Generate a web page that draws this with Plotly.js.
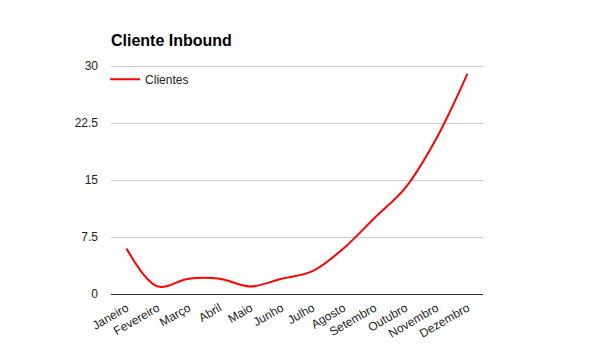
<!DOCTYPE html>
<html>
<head>
<meta charset="utf-8">
<script src="https://cdn.plot.ly/plotly-3.0.1.min.js"></script>
<style>html,body{margin:0;padding:0;background:#fff;}#chart{width:592px;height:362px;}</style>
</head>
<body>
<div id="chart"></div>
<script>
const months = ["Janeiro","Fevereiro","Março","Abril","Maio","Junho","Julho","Agosto","Setembro","Outubro","Novembro","Dezembro"];
const clientes = [6, 1, 2, 2, 1, 2, 3, 6, 10, 14, 20.5, 29];
const yTicks = [0, 7.5, 15, 22.5, 30];
const yTickText = ["0", "7.5", "15", "22.5", "30"];

const trace = {
  x: months,
  y: clientes,
  type: "scatter",
  mode: "lines",
  name: "Clientes",
  line: {color: "#ff0000", width: 2, shape: "spline", smoothing: 1}
};

const layout = {
  width: 592, height: 362,
  margin: {l: 111, r: 109, t: 63, b: 68},
  paper_bgcolor: "#fff", plot_bgcolor: "#fff",
  font: {family: "Liberation Sans, Arial, sans-serif", size: 12, color: "#222"},
  title: {text: "<b>Cliente Inbound</b>", x: 111/592, xanchor: "left", y: 1 - 40/362, yanchor: "middle",
          font: {size: 16, color: "#000", family: "Liberation Sans, Arial, sans-serif"}},
  showlegend: true,
  legend: {x: -0.016, y: 0.992, xanchor: "left", yanchor: "top", bgcolor: "rgba(0,0,0,0)", font: {size: 12, color: "#222"}},
  xaxis: {type: "category", range: [-0.5, 11.5], tickangle: -30, showgrid: false, zeroline: false, showline: false, ticks: "",
          ticklabelstandoff: 4, tickfont: {size: 12, color: "#222"}, fixedrange: true},
  yaxis: {range: [0, 30.4], tickvals: yTicks, ticktext: yTickText, showgrid: true, gridcolor: "#cccccc",
          zeroline: true, zerolinecolor: "#333", zerolinewidth: 1, showline: false, ticks: "",
          ticklabelstandoff: 12, tickfont: {size: 12, color: "#222"}, fixedrange: true}
};

Plotly.newPlot("chart", [trace], layout, {displayModeBar: false, staticPlot: true});
</script>
</body>
</html>
